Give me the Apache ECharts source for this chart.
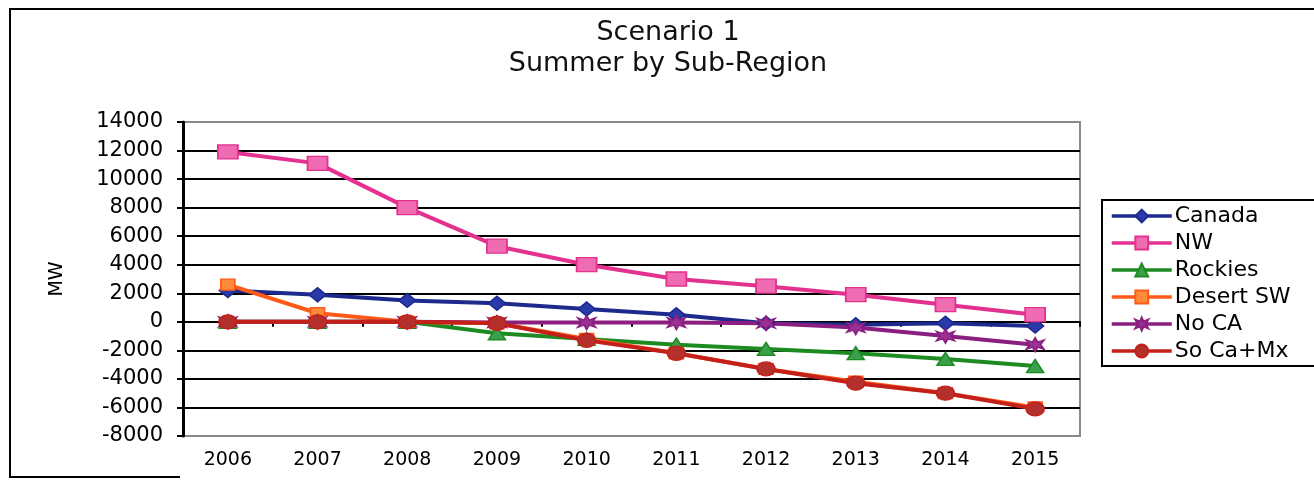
<!DOCTYPE html>
<html>
<head>
<meta charset="utf-8">
<script src="https://cdn.jsdelivr.net/npm/echarts@6/dist/echarts.min.js"></script>
<style>
  html, body { margin: 0; padding: 0; background: #fff; }
  #chart { width: 1314px; height: 488px; }
</style>
</head>
<body>
<div id="chart"></div>
<script>
const years = ['2006', '2007', '2008', '2009', '2010', '2011', '2012', '2013', '2014', '2015'];
const canada   = [2200, 1900, 1500, 1300, 900, 500, -100, -200, -100, -300];
const nw       = [11900, 11100, 8000, 5300, 4000, 3000, 2500, 1900, 1200, 500];
const rockies  = [0, 0, 0, -800, -1200, -1600, -1900, -2200, -2600, -3100];
const desertSW = [2600, 600, 0, -100, -1200, -2200, -3300, -4200, -5000, -6000];
const noCA     = [0, 0, 0, -50, -50, -50, -100, -400, -1000, -1600];
const soCaMx   = [0, 0, 0, -100, -1300, -2200, -3300, -4300, -5000, -6100];
const yTicks = { min: -8000, max: 14000, step: 2000 };

const FONT = 'DejaVu Sans';
const starPath = 'path://M5,0 L6.4,3.2 L10,1.6 L8,5 L10,8.4 L6.4,6.8 L5,10 L3.6,6.8 L0,8.4 L2,5 L0,1.6 L3.6,3.2 Z';

function mk(name, data, line, fill, symbol, size) {
  return {
    name: name,
    type: 'line',
    data: data,
    xAxisIndex: 0,
    symbol: symbol,
    symbolSize: size,
    showAllSymbol: true,
    lineStyle: { color: line, width: 4 },
    itemStyle: { color: fill, borderColor: line, borderWidth: 1.5 },
    emphasis: { disabled: true }
  };
}

const splitColors = [];
for (let v = yTicks.min; v <= yTicks.max; v += yTicks.step) {
  splitColors.push((v === yTicks.min || v === yTicks.max) ? '#8a8a8a' : '#000');
}

const chart = echarts.init(document.getElementById('chart'));
chart.setOption({
  animation: false,
  backgroundColor: '#fff',
  title: {
    text: 'Scenario 1\nSummer by Sub-Region',
    left: 663,
    textAlign: 'center',
    top: 12,
    padding: [5, 5, 5, 5],
    textStyle: { fontFamily: FONT, fontSize: 27, fontWeight: 'normal', color: '#111', lineHeight: 31 }
  },
  graphic: [{
    type: 'polyline',
    shape: { points: [[180, 477], [10, 477], [10, 9], [1320, 9]] },
    style: { stroke: '#000', lineWidth: 2, fill: null },
    silent: true
  }],
  legend: {
    orient: 'vertical',
    left: 1102,
    top: 200,
    padding: [5, 40, 4, 8],
    itemWidth: 60,
    itemHeight: 16,
    itemGap: 5,
    borderColor: '#000',
    borderWidth: 2,
    lineStyle: { width: 3.5 },
    textStyle: { fontFamily: FONT, fontSize: 22, color: '#000', padding: [0, 0, 0, -2] },
    data: ['Canada', 'NW', 'Rockies', 'Desert SW', 'No CA', 'So Ca+Mx']
  },
  grid: {
    left: 183, right: 234, top: 122, bottom: 52,
    show: true, borderColor: '#8a8a8a', borderWidth: 2, backgroundColor: 'transparent'
  },
  xAxis: [{
    type: 'category',
    data: years,
    boundaryGap: true,
    position: 'bottom',
    axisLine: { show: false, onZero: false },
    axisTick: { show: false },
    axisLabel: { fontFamily: FONT, fontSize: 19, color: '#000', margin: 15 },
    splitLine: { show: false }
  }, {
    type: 'category',
    data: years,
    boundaryGap: true,
    position: 'bottom',
    axisLine: { show: true, onZero: true, lineStyle: { color: '#000', width: 2 } },
    axisTick: { show: true, inside: false, length: 5, lineStyle: { color: '#000', width: 2 } },
    axisLabel: { show: false },
    splitLine: { show: false }
  }],
  yAxis: {
    type: 'value',
    min: yTicks.min,
    max: yTicks.max,
    interval: yTicks.step,
    name: 'MW',
    nameLocation: 'middle',
    nameRotate: 90,
    nameGap: 116,
    nameTextStyle: { fontFamily: FONT, fontSize: 19, color: '#000' },
    axisLine: { show: true, onZero: false, lineStyle: { color: '#000', width: 3 } },
    axisTick: { show: true, length: 6, lineStyle: { color: '#000', width: 2 } },
    axisLabel: { fontFamily: FONT, fontSize: 21, color: '#000', margin: 20, formatter: function (v) { return String(v); } },
    splitLine: { show: true, lineStyle: { color: splitColors, width: 2 } }
  },
  series: [
    mk('Canada', canada, '#1d2a8c', '#2a3aa8', 'diamond', [17, 14]),
    mk('NW', nw, '#e2318e', '#f06cb2', 'rect', [20, 14]),
    mk('Rockies', rockies, '#1e8a22', '#3ba04a', 'triangle', [17, 13]),
    mk('Desert SW', desertSW, '#ff5a1a', '#ff8a3a', 'rect', [14, 11]),
    mk('No CA', noCA, '#8a1f80', '#9b3194', starPath, [18, 14]),
    mk('So Ca+Mx', soCaMx, '#c4201a', '#b3302c', 'circle', [18, 14])
  ]
});
</script>
</body>
</html>
